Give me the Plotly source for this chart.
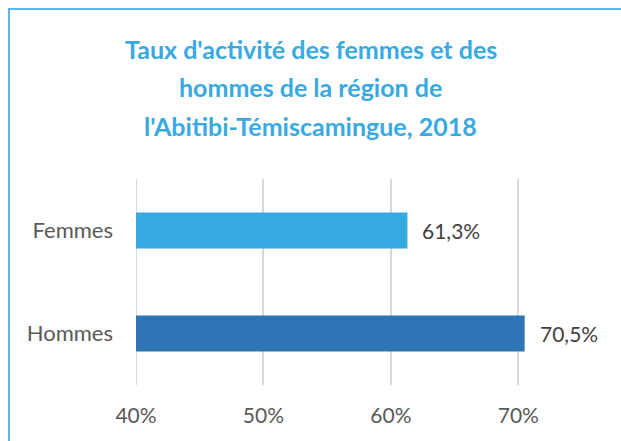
import plotly.graph_objects as go

categories = ["Femmes", "Hommes"]
values = [0.613, 0.705]
bar_colors = ["#36a9e1", "#2e75b6"]
tick_vals = [0.4, 0.5, 0.6, 0.7]
tick_text = ["40%", "50%", "60%", "70%"]
title_lines = ["Taux d'activité des femmes et des",
               "hommes de la région de",
               "l'Abitibi-Témiscamingue, 2018"]
title_line_y = [49, 87, 126]

W, H = 621, 441
ml, mr, mt, mb = 136, 39, 179, 56
pw, ph = W - ml - mr, H - mt - mb
FONT = "Lato"

fig = go.Figure()
fig.add_trace(go.Bar(
    y=categories, x=values, orientation="h",
    marker=dict(color=bar_colors, line=dict(width=0)),
    width=0.35, hoverinfo="skip",
))

for c, v in zip(categories, values):
    fig.add_annotation(
        x=v, y=c, xref="x", yref="y", text=f"{v*100:.1f}%".replace(".", ","),
        showarrow=False, xanchor="left", xshift=13,
        font=dict(family=FONT, size=21, color="#404040"),
    )

for line, ypx in zip(title_lines, title_line_y):
    fig.add_annotation(
        x=(W / 2 - ml) / pw, xref="paper", xanchor="center",
        y=(H - mb - ypx) / ph, yref="paper", yanchor="middle",
        text=line, showarrow=False,
        font=dict(family=FONT, size=25, color="#38a9e2", weight="bold"),
    )

# outer border (extends past the right and bottom edges of the picture)
fig.add_shape(type="rect", xref="paper", yref="paper",
              x0=(9 - ml) / pw, x1=(W + 200 - ml) / pw,
              y0=(H - mb - (H + 200)) / ph, y1=(H - mb - 9) / ph,
              line=dict(color="#5bb8e8", width=2), fillcolor="rgba(0,0,0,0)", layer="below")

fig.update_layout(
    width=W, height=H,
    margin=dict(l=ml, r=mr, t=mt, b=mb, autoexpand=False),
    paper_bgcolor="white", plot_bgcolor="white",
    showlegend=False,
    xaxis=dict(range=[0.4, 0.75], tickvals=tick_vals, ticktext=tick_text,
               showgrid=True, gridcolor="#d9d9d9", gridwidth=2, zeroline=False,
               showline=False, ticklabelstandoff=16, automargin=False,
               tickfont=dict(family=FONT, size=21, color="#595959")),
    yaxis=dict(autorange="reversed", showgrid=False, zeroline=False,
               showline=False, ticklabelstandoff=22, automargin=False,
               tickfont=dict(family=FONT, size=22, color="#595959")),
)
fig.add_shape(type="line", xref="x", yref="paper", x0=0.4, x1=0.4, y0=0, y1=1,
              line=dict(color="#d9d9d9", width=2), layer="below")

fig.write_html("out.html", config={"displayModeBar": False},
               post_script="document.body.style.margin='0';document.body.style.overflow='hidden';")
